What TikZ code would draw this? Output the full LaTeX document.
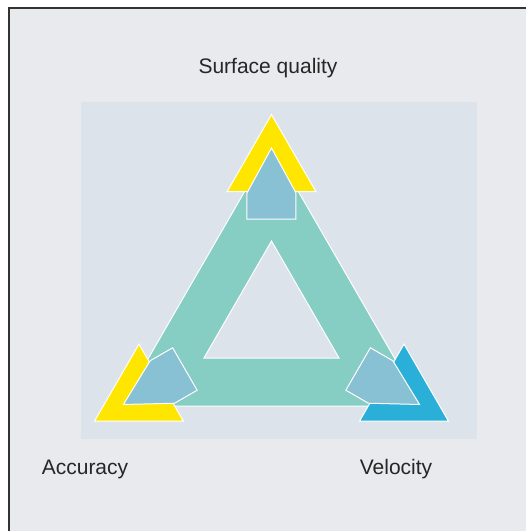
\documentclass[tikz,border=0pt]{standalone}
\usepackage{fontspec}
\setmainfont{Liberation Sans}
\usepackage{xcolor}
\usetikzlibrary{positioning}
\definecolor{pagebg}{HTML}{E9EAEE}
\definecolor{panelbg}{HTML}{DCE3EA}
\definecolor{band}{HTML}{86CDC3}
\definecolor{goal}{HTML}{FFE600}
\definecolor{goalcyan}{HTML}{2AB0D8}
\definecolor{pointer}{HTML}{88C0D4}
\definecolor{frameline}{HTML}{333333}

\begin{document}
\begin{tikzpicture}[
  x=1pt,y=1pt,
  lbl/.style={anchor=base,inner sep=0pt,text=black!85,font=\fontsize{21}{25}\selectfont},
  ring/.style={fill=band,draw=white,line width=1pt,even odd rule},
  goalmark/.style={draw=white,line width=1pt},
  house/.style={fill=pointer,draw=white,line width=1pt,line join=miter}
]
  \useasboundingbox (-271.5,-212) rectangle (254.5,319);
  % page and frame
  \fill[pagebg] (-262.5,-212) rectangle (254.5,311);
  \draw[frameline,line width=1.5pt] (-262.5,-212) -- (-262.5,311) -- (254.5,311);
  \fill[panelbg] (-190.5,-120) rectangle (205.5,217);
  % triangle band with hole
  \coordinate (C) at (0,0);
  \path[ring] (90:174) -- (210:174) -- (330:174) -- cycle
              (90:78) -- (210:78) -- (330:78) -- cycle;
  % upright target triangles at the corners
  \foreach \ang/\col in {90/goal,210/goal,330/goalcyan}{
    \path[goalmark,fill=\col,shift={(\ang:153)}]
      (90:51.4) -- (210:51.4) -- (330:51.4) -- cycle;
  }
  % pointers toward each corner
  \foreach \rot in {0,120,240}{
    \path[house,rotate=\rot]
      (-24.5,100) -- (-24.5,126) -- (0,171) -- (24.5,126) -- (24.5,100) -- cycle;
  }
  % labels
  \node[lbl] (surf) at (-3.5,245) {Surface quality};
  \node[lbl] (acc)  at (-186.5,-155) {Accuracy};
  \node[lbl] (vel)  at (124.5,-155) {Velocity};
\end{tikzpicture}
\end{document}
